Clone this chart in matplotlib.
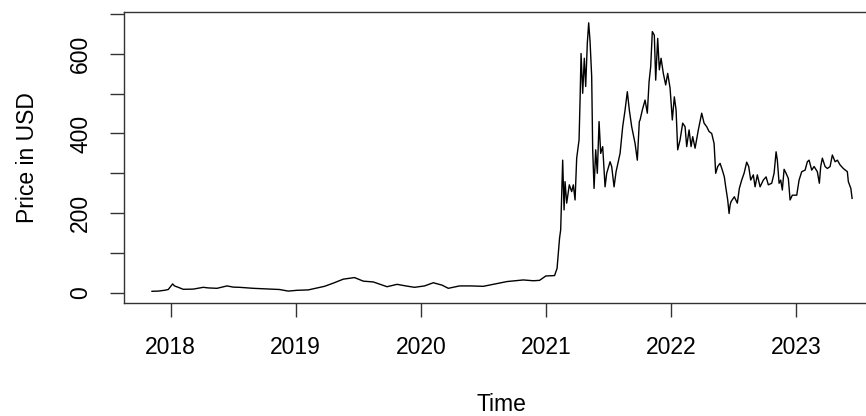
import numpy as np
import matplotlib.pyplot as plt

# decimal year (like an R ts time axis) and price
years = [2017.85, 2017.90, 2017.95, 2017.98, 2018.015, 2018.03, 2018.06, 2018.10,
         2018.18, 2018.26, 2018.30, 2018.37, 2018.45, 2018.50, 2018.55, 2018.66,
         2018.79, 2018.87, 2018.94, 2019.01, 2019.10, 2019.17, 2019.23, 2019.30,
         2019.38, 2019.47, 2019.54, 2019.62, 2019.73, 2019.81, 2019.88, 2019.95,
         2020.03, 2020.10, 2020.17, 2020.22, 2020.31, 2020.40, 2020.50, 2020.58,
         2020.69, 2020.82, 2020.90, 2020.95, 2021.00, 2021.07, 2021.09, 2021.11,
         2021.119, 2021.135, 2021.146, 2021.154, 2021.167, 2021.188, 2021.207, 2021.22,
         2021.234, 2021.247, 2021.266, 2021.274, 2021.282, 2021.295, 2021.308, 2021.319,
         2021.332, 2021.343, 2021.354, 2021.367, 2021.375, 2021.386, 2021.399, 2021.412,
         2021.426, 2021.439, 2021.455, 2021.474, 2021.487, 2021.514, 2021.527, 2021.546,
         2021.562, 2021.594, 2021.615, 2021.634, 2021.652, 2021.668, 2021.687, 2021.714,
         2021.732, 2021.748, 2021.754, 2021.772, 2021.794, 2021.812, 2021.826, 2021.839,
         2021.852, 2021.868, 2021.879, 2021.895, 2021.908, 2021.922, 2021.94, 2021.959,
         2021.975, 2021.994, 2022.012, 2022.028, 2022.042, 2022.055, 2022.074, 2022.095,
         2022.114, 2022.127, 2022.146, 2022.162, 2022.175, 2022.194, 2022.22, 2022.247,
         2022.266, 2022.287, 2022.306, 2022.327, 2022.346, 2022.359, 2022.375, 2022.394,
         2022.412, 2022.428, 2022.439, 2022.455, 2022.466, 2022.474, 2022.482, 2022.508,
         2022.514, 2022.532, 2022.548, 2022.567, 2022.586, 2022.607, 2022.623, 2022.639,
         2022.66, 2022.674, 2022.692, 2022.714, 2022.74, 2022.762, 2022.78, 2022.807,
         2022.826, 2022.842, 2022.852, 2022.866, 2022.879, 2022.892, 2022.906, 2022.922,
         2022.94, 2022.954, 2022.972, 2023.007, 2023.026, 2023.047, 2023.074, 2023.092,
         2023.106, 2023.127, 2023.146, 2023.172, 2023.188, 2023.199, 2023.212, 2023.234,
         2023.252, 2023.274, 2023.292, 2023.314, 2023.332, 2023.354, 2023.38, 2023.412,
         2023.42, 2023.44, 2023.45]
price = [3.5, 4, 6, 8, 22, 17, 13.5, 8.5,
         9, 13.5, 12, 11, 17, 14, 13.5, 11,
         9, 8, 4, 6, 7, 12, 16, 24,
         34, 38, 29, 27, 15, 21, 17, 13.5,
         17, 25, 19, 11, 17, 17, 16, 21,
         28, 32, 30, 31, 42, 43, 61, 137,
         158, 333, 208, 279, 225, 271, 254, 271,
         233, 338, 384, 484, 601, 501, 589, 518,
         627, 678, 631, 543, 359, 262, 359, 300,
         430, 350, 367, 266, 300, 329, 317, 266,
         304, 350, 417, 459, 505, 459, 417, 375,
         333, 430, 434, 459, 484, 451, 530, 568,
         656, 647, 534, 639, 560, 589, 551, 522,
         551, 514, 434, 492, 459, 359, 384, 426,
         417, 367, 409, 367, 392, 363, 409, 451,
         426, 417, 405, 400, 375, 300, 317, 325,
         308, 291, 266, 233, 199, 220, 229, 241,
         237, 225, 262, 283, 300, 328, 317, 283,
         296, 266, 296, 266, 283, 291, 271, 275,
         300, 354, 333, 275, 283, 258, 310, 300,
         287, 233, 245, 245, 283, 304, 308, 329,
         333, 308, 317, 304, 275, 317, 338, 317,
         312, 317, 346, 329, 333, 321, 312, 304,
         279, 262, 237]

plt.rcParams['font.family'] = ['Liberation Sans', 'DejaVu Sans']

fig = plt.figure(figsize=(8.66, 4.16), dpi=100)
ax = fig.add_axes([124 / 866, 113 / 416, 755.6 / 866, 290.7 / 416])

ax.plot(years, price, color="black", linewidth=1.0)

ax.set_xlim(2017.626, 2023.67)
ax.set_ylim(-25.9, 704.5)

ax.set_xticks([2018, 2019, 2020, 2021, 2022, 2023])
ax.set_xticklabels(["2018", "2019", "2020", "2021", "2022", "2023"])
ax.set_yticks([0, 100, 200, 300, 400, 500, 600, 700])
ax.set_yticklabels(["0", "", "200", "", "400", "", "600", ""], rotation=90, va="center")

ax.tick_params(axis="both", direction="out", length=10, width=1.0,
               labelsize=16.5, color="#333333")
ax.tick_params(axis="x", pad=14)
ax.tick_params(axis="y", pad=13)

for s in ax.spines.values():
    s.set_color("#333333")
    s.set_linewidth(1.0)

ax.set_xlabel("Time", fontsize=16.5, labelpad=24)
ax.set_ylabel("Price in USD", fontsize=16.5, labelpad=22)

fig.savefig("out.png", dpi=100)
